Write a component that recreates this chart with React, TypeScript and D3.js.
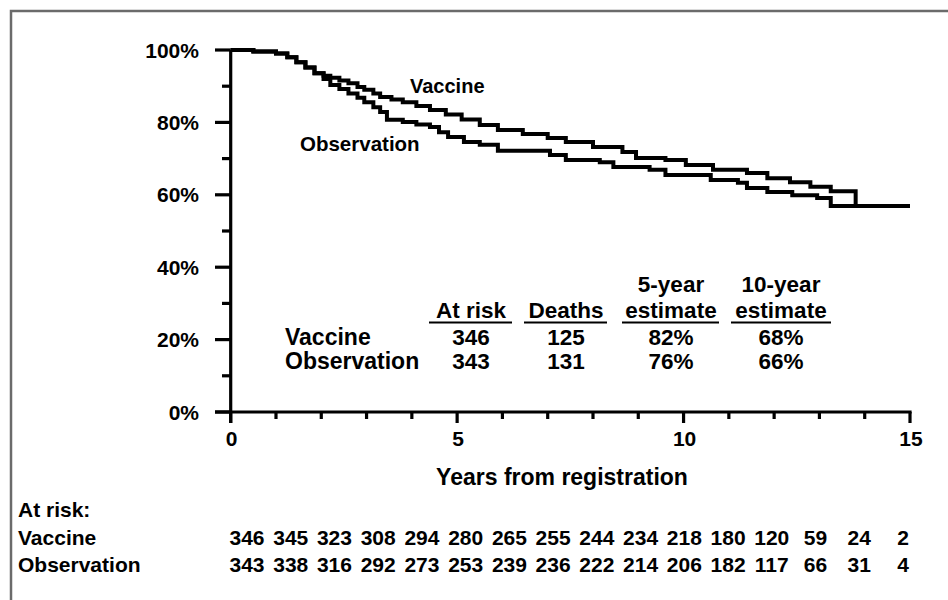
import React from 'react';
import * as d3 from 'd3';

// survival curves (years, % surviving)
const vaccineYears = [0, 0.5, 1.0, 1.25, 1.45, 1.65, 1.85, 2.05, 2.2, 2.4, 2.6, 2.8, 2.95, 3.15, 3.3, 3.55, 3.8, 4.1, 4.4, 4.75, 5.1, 5.5, 5.9, 6.45, 7.0, 7.4, 8.0, 8.65, 8.95, 9.6, 10.05, 10.65, 11.4, 11.85, 12.35, 12.8, 13.25, 13.8, 15];
const vaccineSurv = [100, 99.6, 99, 98, 96.6, 95.2, 93.6, 92.9, 92.3, 91.6, 90.8, 89.8, 89, 88, 87, 86.3, 85.6, 84.5, 83.4, 82.2, 80.8, 79.3, 77.9, 76.8, 75.7, 74.6, 73.2, 71.8, 70.2, 69.6, 68.2, 66.9, 66, 64.6, 63.5, 62.2, 61, 56.9, 56.9];
const observationYears = [0, 0.5, 1.0, 1.25, 1.45, 1.65, 1.85, 2.05, 2.2, 2.4, 2.6, 2.8, 2.95, 3.15, 3.3, 3.45, 3.8, 4.1, 4.4, 4.6, 4.8, 5.15, 5.5, 5.9, 7.05, 7.4, 8.15, 8.45, 9.25, 9.6, 10.6, 11.2, 11.4, 11.85, 12.4, 12.95, 13.25, 15];
const observationSurv = [100, 99.6, 99, 98, 96.6, 95.2, 93.6, 92, 90.3, 89.2, 88, 86.8, 85.6, 84.2, 82.9, 80.7, 80.1, 79.4, 78.7, 77.3, 76, 74.6, 73.8, 72.2, 71, 69.6, 69, 67.7, 66.9, 65.5, 64.1, 63.3, 61.9, 60.8, 59.9, 59.1, 56.9, 56.9];

const yTicks = [0, 20, 40, 60, 80, 100];
const yMinorTicks = [10, 30, 50, 70, 90];
const xTicks = [0, 5, 10, 15];
const xMinorTicks = d3.range(0, 16);

// inset summary table
const summaryHeads = [['', 'At risk'], ['', 'Deaths'], ['5-year', 'estimate'], ['10-year', 'estimate']];
const summaryGroups = ['Vaccine', 'Observation'];
const summaryVaccine = ['346', '125', '82%', '68%'];
const summaryObservation = ['343', '131', '76%', '66%'];

// numbers at risk, one per year
const atRiskVaccine = [346, 345, 323, 308, 294, 280, 265, 255, 244, 234, 218, 180, 120, 59, 24, 2];
const atRiskObservation = [343, 338, 316, 292, 273, 253, 239, 236, 222, 214, 206, 182, 117, 66, 31, 4];

const FONT = 'Liberation Sans, Arial, sans-serif';

export default function App() {
  const x = d3.scaleLinear().domain([0, 15]).range([230.7, 910]);
  const y = d3.scaleLinear().domain([0, 100]).range([412, 50]);

  const line = d3.line<[number, number]>()
    .x(d => x(d[0]))
    .y(d => y(d[1]))
    .curve(d3.curveStepAfter);

  const vacPts = vaccineYears.map((t, i) => [t, vaccineSurv[i]] as [number, number]);
  const obsPts = observationYears.map((t, i) => [t, observationSurv[i]] as [number, number]);

  // inset column centres + underline extents
  const colCentres = [471, 566, 671, 781];
  const underline = [[429, 512], [524, 607], [622, 719], [731, 831]];

  const risk = d3.scalePoint<number>().domain(d3.range(16)).range([247, 903]);

  return (
    <svg width={948} height={600} style={{ position: 'absolute', left: 0, top: 0, background: '#fff' }}
      fontFamily={FONT} fontWeight="bold">
      <rect x={11} y={11} width={960} height={620} fill="none" stroke="#6b6b6b" strokeWidth={2.5} />

      {/* y axis */}
      <line x1={x(0)} x2={x(0)} y1={y(100)} y2={y(0) + 11} stroke="#000" strokeWidth={3.2} />
      {yTicks.map(t => (
        <g key={'y' + t}>
          <line x1={215} x2={x(0)} y1={y(t)} y2={y(t)} stroke="#000" strokeWidth={3.2} />
          <text x={199} y={y(t) + 7.5} textAnchor="end" fontSize={21}>{t}%</text>
        </g>
      ))}
      {yMinorTicks.map(t => (
        <line key={'ym' + t} x1={222} x2={x(0)} y1={y(t)} y2={y(t)} stroke="#000" strokeWidth={3.2} />
      ))}

      {/* x axis */}
      <line x1={215} x2={x(15) + 1.6} y1={y(0)} y2={y(0)} stroke="#000" strokeWidth={3.2} />
      {xMinorTicks.map(t => (
        <line key={'xm' + t} x1={x(t)} x2={x(t)} y1={y(0)} y2={y(0) + (t % 5 === 0 ? 11 : 7)}
          stroke="#000" strokeWidth={3.2} />
      ))}
      {xTicks.map(t => (
        <text key={'x' + t} x={x(t) + 1} y={446} textAnchor="middle" fontSize={21}>{t}</text>
      ))}
      <text x={562} y={485} textAnchor="middle" fontSize={23}>Years from registration</text>

      {/* curves */}
      <path d={line(obsPts) || ''} fill="none" stroke="#000" strokeWidth={4} />
      <path d={line(vacPts) || ''} fill="none" stroke="#000" strokeWidth={4} />
      <text x={410} y={93} fontSize={20}>Vaccine</text>
      <text x={300} y={151} fontSize={20.5}>Observation</text>

      {/* inset table */}
      {summaryHeads.map((h, i) => (
        <g key={'h' + i}>
          <text x={colCentres[i]} y={292} textAnchor="middle" fontSize={22.5}>{h[0]}</text>
          <text x={colCentres[i]} y={318} textAnchor="middle" fontSize={22.5}>{h[1]}</text>
          <line x1={underline[i][0]} x2={underline[i][1]} y1={322.5} y2={322.5} stroke="#000" strokeWidth={2.2} />
        </g>
      ))}
      {summaryGroups.map((g, r) => (
        <g key={g}>
          <text x={285} y={345 + r * 24} fontSize={23}>{g}</text>
          {(r === 0 ? summaryVaccine : summaryObservation).map((v, i) => (
            <text key={i} x={colCentres[i]} y={345 + r * 24} textAnchor="middle" fontSize={22.5}>{v}</text>
          ))}
        </g>
      ))}

      {/* at-risk table */}
      <text x={18} y={517} fontSize={21}>At risk:</text>
      <text x={18} y={545} fontSize={21}>Vaccine</text>
      <text x={18} y={572} fontSize={21}>Observation</text>
      {atRiskVaccine.map((n, i) => (
        <text key={'v' + i} x={risk(i)} y={545} textAnchor="middle" fontSize={21}>{n}</text>
      ))}
      {atRiskObservation.map((n, i) => (
        <text key={'o' + i} x={risk(i)} y={572} textAnchor="middle" fontSize={21}>{n}</text>
      ))}
    </svg>
  );
}
